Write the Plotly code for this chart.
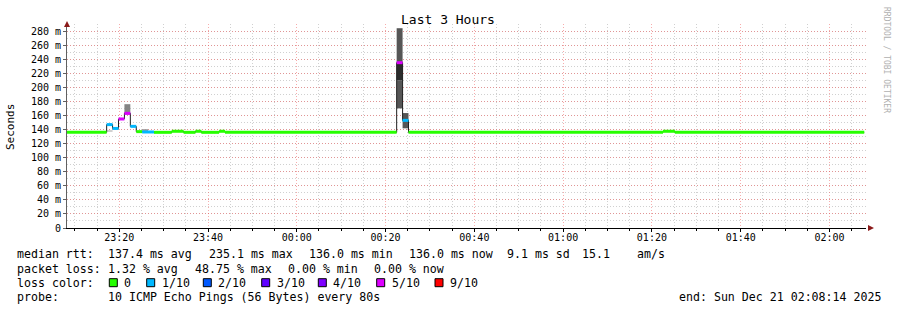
import pandas as pd
import plotly.graph_objects as go

# ---------------- data ----------------
seg_start = [
    "2025-12-20 23:07:50", "2025-12-20 23:17:10", "2025-12-20 23:18:30", "2025-12-20 23:19:50",
    "2025-12-20 23:21:10", "2025-12-20 23:22:30", "2025-12-20 23:23:50", "2025-12-20 23:25:10",
    "2025-12-20 23:27:50", "2025-12-20 23:31:50", "2025-12-20 23:34:30", "2025-12-20 23:37:10",
    "2025-12-20 23:38:30", "2025-12-20 23:42:30", "2025-12-20 23:43:50", "2025-12-21 00:22:30",
    "2025-12-21 00:23:50", "2025-12-21 00:25:10", "2025-12-21 01:22:30", "2025-12-21 01:25:10",
]
seg_end = seg_start[1:] + ["2025-12-21 02:07:50"]
median_ms = [136.0, 147.0, 141.5, 155.0, 163.0, 144.5, 137.0, 136.5, 136.0, 137.5,
             136.0, 137.5, 136.0, 137.5, 136.0, 235.0, 153.0, 136.0, 137.5, 136.0]
loss_tenths = [0, 1, 1, 5, 5, 1, 0, 1, 0, 0, 0, 0, 0, 0, 0, 5, 1, 0, 0, 0]

smoke_start = ["2025-12-20 23:17:10", "2025-12-20 23:21:10", "2025-12-20 23:25:10",
               "2025-12-21 00:22:30", "2025-12-21 00:22:30", "2025-12-21 00:22:30",
               "2025-12-21 00:23:50"]
smoke_end = ["2025-12-20 23:18:30", "2025-12-20 23:22:30", "2025-12-20 23:26:30",
             "2025-12-21 00:23:50", "2025-12-21 00:23:50", "2025-12-21 00:23:50",
             "2025-12-21 00:25:10"]
smoke_lo = [136.5, 161.0, 137.0, 170.0, 210.0, 235.0, 141.7]
smoke_hi = [138.0, 176.0, 140.5, 210.0, 235.0, 284.0, 163.4]
smoke_density = [1, 3, 2, 4, 5, 4, 4]

x_range = ["2025-12-20 23:08:14", "2025-12-21 02:08:14"]
y_tickvals = [0, 20, 40, 60, 80, 100, 120, 140, 160, 180, 200, 220, 240, 260, 280]
y_ticktext = ["0", "20 m", "40 m", "60 m", "80 m", "100 m", "120 m", "140 m", "160 m",
              "180 m", "200 m", "220 m", "240 m", "260 m", "280 m"]

loss_levels = [0, 1, 2, 3, 4, 5, 9]
loss_labels = ["0", "1/10", "2/10", "3/10", "4/10", "5/10", "9/10"]

stats_rtt = ["137.4 ms avg", "235.1 ms max", "136.0 ms min", "136.0 ms now", "9.1 ms sd", "15.1", "am/s"]
stats_loss = ["1.32 % avg", "48.75 % max", "0.00 % min", "0.00 % now"]
probe_text = "10 ICMP Echo Pings (56 Bytes) every 80s"
end_text = "end: Sun Dec 21 02:08:14 2025"
title_text = "Last 3 Hours"
y_title = "Seconds"

# ---------------- styles ----------------
LOSS_COLORS = {0: "#26ff00", 1: "#00b8ff", 2: "#0059ff", 3: "#5e00ff",
               4: "#7e00ff", 5: "#dd00ff", 9: "#ff0000"}
SHADES = {1: "#d0d0d0", 2: "#9a9a9a", 3: "#858585", 4: "#565656", 5: "#2c2c2c"}
FONT = "DejaVu Sans Mono"
W, H = 897, 310
L, R, T, B = 67, 31, 24, 82
PW, PH = W - L - R, H - T - B


def px(x):
    return (x - L) / PW


def py(y):
    return (H - B - y) / PH


fig = go.Figure()

# smoke
s0 = pd.to_datetime(smoke_start)
s1 = pd.to_datetime(smoke_end)
mid = s0 + (s1 - s0) / 2
wid = [(b - a).total_seconds() * 1000 for a, b in zip(s0, s1)]
fig.add_trace(go.Bar(
    x=mid, y=[h - l for l, h in zip(smoke_lo, smoke_hi)], base=smoke_lo, width=wid,
    marker=dict(color=[SHADES[d] for d in smoke_density], line=dict(width=0)),
    showlegend=False, hoverinfo="skip"))

# median line
fig.add_trace(go.Scatter(
    x=seg_start + [seg_end[-1]], y=median_ms + [median_ms[-1]], mode="lines",
    line=dict(color="#202020", width=1, shape="hv"), showlegend=False, hoverinfo="skip"))

# loss-coloured median bands
for lv in loss_levels:
    xs, ys = [], []
    for a, b, m, l in zip(seg_start, seg_end, median_ms, loss_tenths):
        if l == lv:
            xs += [a, b, None]
            ys += [m, m, None]
    if xs:
        fig.add_trace(go.Scatter(x=xs, y=ys, mode="lines",
                                 line=dict(color=LOSS_COLORS[lv], width=3),
                                 showlegend=False, hoverinfo="skip"))

MAJ = "rgba(240,90,90,0.5)"
MIN = "rgba(150,150,150,0.45)"
DASH = "1px,2px"

fig.update_layout(
    width=W, height=H, margin=dict(l=L, r=R, t=T, b=B, autoexpand=False),
    paper_bgcolor="white", plot_bgcolor="white", barmode="overlay",
    font=dict(family=FONT, size=10, color="#000"), showlegend=False,
    xaxis=dict(type="date", range=x_range, tickformat="%H:%M", automargin=False,
               tick0="2025-12-20 23:20:00", dtick=20 * 60 * 1000,
               showgrid=True, gridcolor=MAJ, griddash=DASH, gridwidth=1,
               showline=True, linecolor="#000", linewidth=1, zeroline=False,
               ticks="outside", ticklen=3, tickcolor="#000", ticklabelstandoff=-3,
               tickfont=dict(family=FONT, size=10, color="#000"),
               minor=dict(dtick=5 * 60 * 1000, showgrid=True, gridcolor=MIN,
                          griddash=DASH, ticks="outside", ticklen=2, tickcolor="#000")),
    yaxis=dict(range=[0, 290], tickvals=y_tickvals, ticktext=y_ticktext, automargin=False,
               showgrid=True, gridcolor=MAJ, griddash=DASH,
               showline=True, linecolor="#606060", linewidth=1, zeroline=False,
               ticks="outside", ticklen=3, tickcolor="#606060",
               tickfont=dict(family=FONT, size=10, color="#000"),
               minor=dict(dtick=10, showgrid=True, gridcolor=MIN, griddash=DASH)),
)

ann = []
ann.append(dict(text=title_text, xref="paper", yref="paper", x=px(448), y=py(19),
                xanchor="center", yanchor="middle", showarrow=False,
                font=dict(family=FONT, size=13, color="#000")))
ann.append(dict(text=y_title, xref="paper", yref="paper", x=px(10), y=py(127),
                xanchor="center", yanchor="middle", showarrow=False, textangle=-90,
                font=dict(family=FONT, size=11, color="#000")))
ann.append(dict(text="RRDTOOL / TOBI OETIKER", xref="paper", yref="paper", x=px(887), y=py(60),
                xanchor="center", yanchor="middle", showarrow=False, textangle=90,
                font=dict(family=FONT, size=8, color="#b0b0b0")))


def txt(t, x, y):
    ann.append(dict(text=t, xref="paper", yref="paper", x=px(x), y=py(y),
                    xanchor="left", yanchor="middle", showarrow=False, borderpad=0,
                    font=dict(family=FONT, size=11.6, color="#000")))


y1, y2, y3, y4 = 254.3, 268.5, 282.7, 296.8
txt("median rtt:", 16, y1)
for t, x in zip(stats_rtt, [107, 207.5, 307.5, 407.5, 505.5, 580.5, 635.5]):
    txt(t, x, y1)
txt("packet loss:", 16, y2)
for t, x in zip(stats_loss, [107, 194, 287, 373]):
    txt(t, x, y2)
txt("loss color:", 16, y3)
shapes = []
sq_x = [109.3, 146.7, 203.3, 261.7, 318.3, 376.7, 435]
for lv, lab, sx in zip(loss_levels, loss_labels, sq_x):
    shapes.append(dict(type="rect", xref="paper", yref="paper", x0=px(sx), x1=px(sx + 8),
                       y0=py(y3 + 4), y1=py(y3 - 4), fillcolor=LOSS_COLORS[lv],
                       line=dict(color="#000", width=1)))
    txt(lab, sx + 14, y3)
txt("probe:", 16, y4)
txt(probe_text, 107, y4)
txt(end_text, 678.3, y4)

# axis arrows
shapes.append(dict(type="path", xref="paper", yref="paper", xsizemode="pixel", ysizemode="pixel",
                   xanchor=0, yanchor=1, path="M -3,-3 L 3,-3 L 0,3 Z",
                   fillcolor="#8b1a1a", line=dict(width=0)))
shapes.append(dict(type="path", xref="paper", yref="paper", xsizemode="pixel", ysizemode="pixel",
                   xanchor=1, yanchor=0, path="M 2,3 L 2,-3 L 8,0 Z",
                   fillcolor="#8b1a1a", line=dict(width=0)))

fig.update_layout(annotations=ann, shapes=shapes)
fig.write_html("out.html")
